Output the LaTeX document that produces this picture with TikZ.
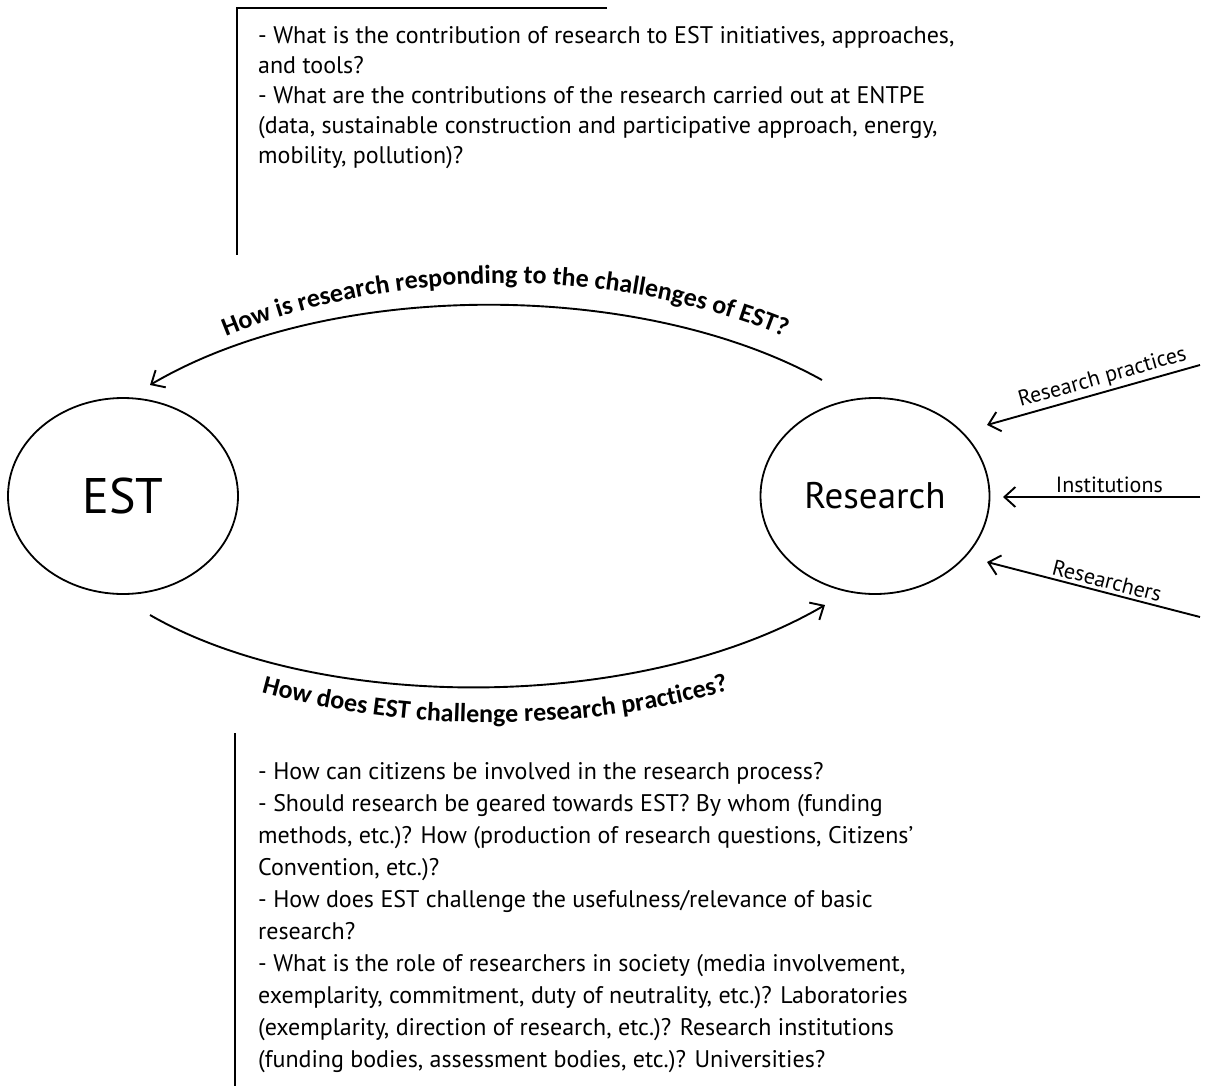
\documentclass[tikz,border=0pt]{standalone}
\usepackage{fontspec}
\setmainfont{PT Sans}
\newfontfamily\qfont{Carlito}
\usetikzlibrary{arrows.meta,shapes.geometric,decorations.text}
\tikzset{
  >={Straight Barb[length=11pt,width=20pt]},
  topic/.style={ellipse,draw,line width=1.8pt,minimum width=#1,minimum height=196pt,inner sep=0pt},
  link/.style={->,line width=1.9pt},
  feed/.style={->,line width=1.9pt},
  qlist/.style={anchor=north west,inner sep=0pt,align=left,font=\fontsize{24}{#1}\selectfont},
  bar/.style={line width=1.4pt},
  side/.style={font=\fontsize{22}{24}\selectfont,inner sep=3pt},
  bend label/.style={decorate,decoration={text along path,text align=center,
    text={|\qfont\bfseries\fontsize{26}{28}\selectfont|#1}}},
}
\begin{document}
\begin{tikzpicture}[x=1pt,y=-1pt]
\useasboundingbox (0,0) rectangle (1214,1086);
% the two poles
\node[topic=230pt] (est) at (123,496) {\fontsize{50}{50}\selectfont EST};
\node[topic=229pt] (res) at (875,496) {\fontsize{37}{37}\selectfont Research};
% questions above
\draw[bar] (607,8) -- (237,8) -- (237,255);
\node[qlist=30] (qtop) at (258,26) {- What is the contribution of research to EST initiatives, approaches,\\
and tools?\\
- What are the contributions of the research carried out at ENTPE\\
(data, sustainable construction and participative approach, energy,\\
mobility, pollution)?};
% questions below
\draw[bar] (235,733) -- (235,1086);
\node[qlist=32] (qbot) at (258,762) {- How can citizens be involved in the research process?\\
- Should research be geared towards EST? By whom (funding\\
methods, etc.)? How (production of research questions, Citizens’\\
Convention, etc.)?\\
- How does EST challenge the usefulness/relevance of basic\\
research?\\
- What is the role of researchers in society (media involvement,\\
exemplarity, commitment, duty of neutrality, etc.)? Laboratories\\
(exemplarity, direction of research, etc.)? Research institutions\\
(funding bodies, assessment bodies, etc.)? Universities?};
% curved links
\coordinate (top-from) at (822,380);
\coordinate (top-to) at (150,385);
\draw[link] (top-from) .. controls (640,279) and (330,279) .. (top-to);
\path[bend label={How is research responding to the challenges of EST?}]
  (200,348) .. controls (385,262) and (625,262) .. (810,348);
\coordinate (bot-from) at (150,615);
\coordinate (bot-to) at (825,605);
\draw[link] (bot-from) .. controls (320,713) and (640,713) .. (bot-to);
\path[bend label={How does EST challenge research practices?}]
  (240,686) .. controls (400,735) and (590,735) .. (750,684);
% what feeds research
\coordinate (rp-out) at (1200,365);
\coordinate (rp-in) at (987,425);
\coordinate (in-out) at (1200,497);
\coordinate (in-in) at (1003,497);
\coordinate (rr-out) at (1200,617);
\coordinate (rr-in) at (987,562);
\draw[feed] (rp-out) -- node[side,sloped,above,pos=0.44] {Research practices} (rp-in);
\draw[feed] (in-out) -- node[side,above,pos=0.46] {Institutions} (in-in);
\draw[feed] (rr-out) -- node[side,sloped,above,pos=0.45] {Researchers} (rr-in);
\end{tikzpicture}
\end{document}
